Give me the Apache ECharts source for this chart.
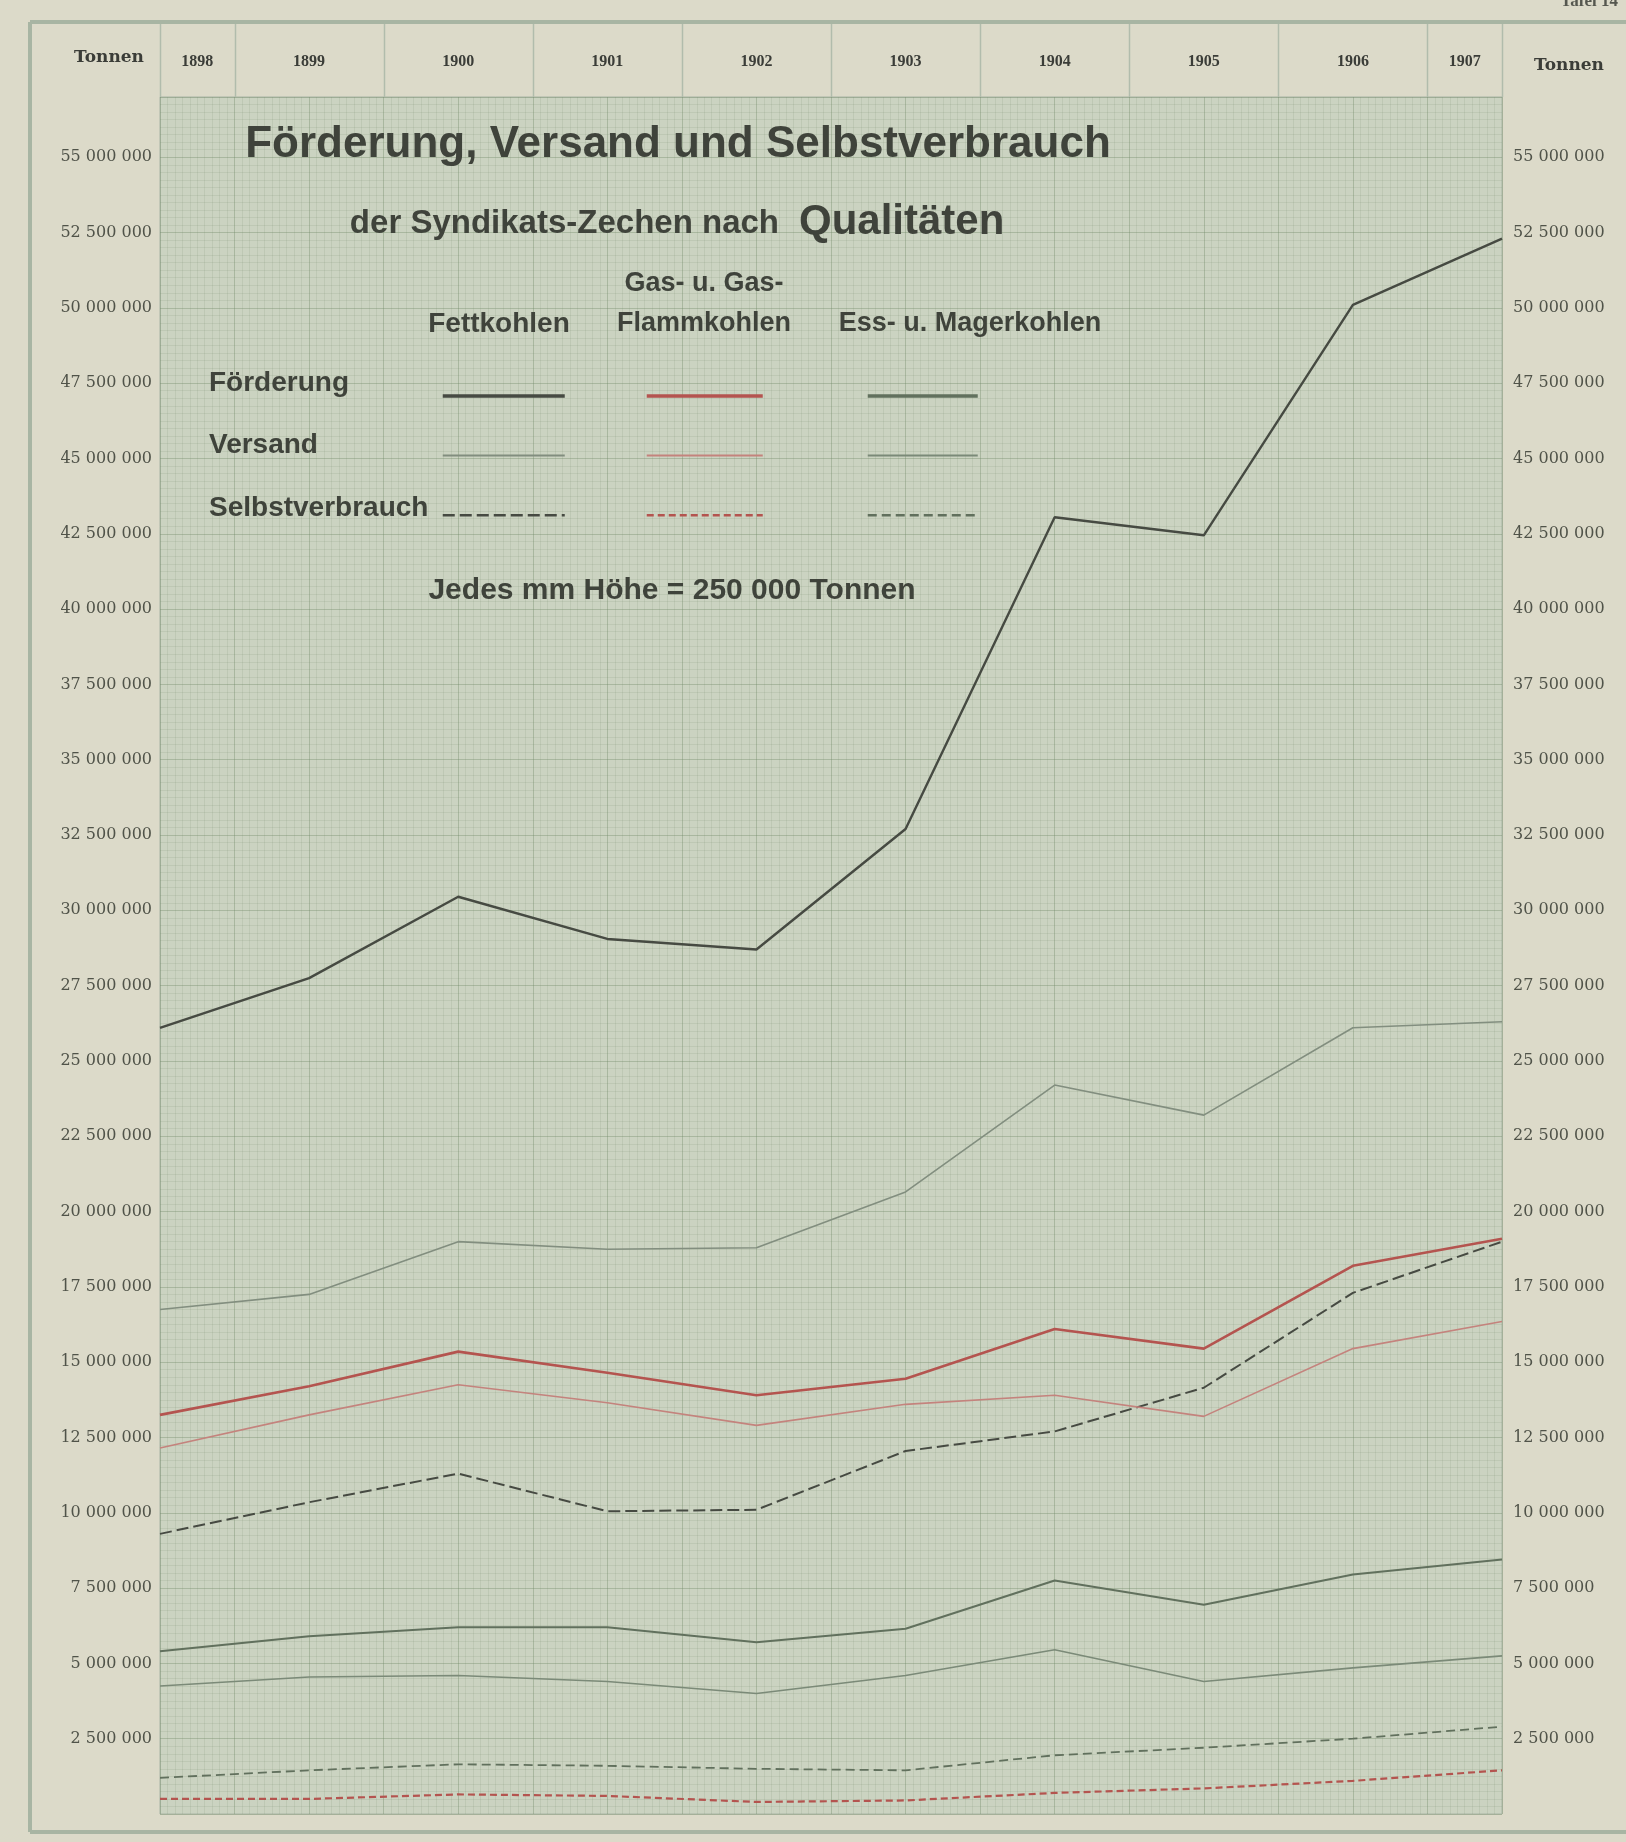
<!DOCTYPE html>
<html>
<head>
<meta charset="utf-8">
<title>Förderung, Versand und Selbstverbrauch</title>
<script src="https://cdn.jsdelivr.net/npm/echarts@6/dist/echarts.min.js"></script>
<style>
  html, body { margin: 0; padding: 0; background: #dcdac9; }
  #chart { width: 1626px; height: 1842px; }
</style>
</head>
<body>
<div id="chart"></div>
<script>
// Jahre (Kategorien)
const years = ['1898', '1899', '1900', '1901', '1902', '1903', '1904', '1905', '1906', '1907'];

// Tonnen
const fettFoerderung = [26100000, 27750000, 30450000, 29050000, 28700000, 32700000, 43050000, 42450000, 50100000, 52300000];
const fettVersand = [16750000, 17250000, 19000000, 18750000, 18800000, 20650000, 24200000, 23200000, 26100000, 26300000];
const fettSelbst = [9300000, 10350000, 11300000, 10050000, 10100000, 12050000, 12700000, 14150000, 17300000, 19000000];

const gasFoerderung = [13250000, 14200000, 15350000, 14650000, 13900000, 14450000, 16100000, 15450000, 18200000, 19100000];
const gasVersand = [12150000, 13250000, 14250000, 13650000, 12900000, 13600000, 13900000, 13200000, 15450000, 16350000];
const gasSelbst = [500000, 500000, 650000, 600000, 400000, 450000, 700000, 850000, 1100000, 1450000];

const essFoerderung = [5400000, 5900000, 6200000, 6200000, 5700000, 6150000, 7750000, 6950000, 7950000, 8450000];
const essVersand = [4250000, 4550000, 4600000, 4400000, 4000000, 4600000, 5450000, 4400000, 4850000, 5250000];
const essSelbst = [1200000, 1450000, 1650000, 1600000, 1500000, 1450000, 1950000, 2200000, 2500000, 2900000];

// Kopfzeile: Zelltrenner und Beschriftungspositionen (Index der Jahre)
const headerSeparators = [0, 0.5, 1.5, 2.5, 3.5, 4.5, 5.5, 6.5, 7.5, 8.5, 9];
const headerLabelPos = [0.25, 1, 2, 3, 4, 5, 6, 7, 8, 8.75];

const ink = '#3f433b';
const sans = '"Liberation Sans", Arial, sans-serif';
const serif = '"DejaVu Serif", "Liberation Serif", serif';
const frameColor = '#a8b5a3';

function tonnen(v) {
  return String(v).replace(/\B(?=(\d{3})+(?!\d))/g, ' ');
}

const chart = echarts.init(document.getElementById('chart'));

function lineSeries(name, data, color, width, dash) {
  return {
    name: name,
    type: 'line',
    data: data,
    symbol: 'none',
    lineStyle: { color: color, width: width, type: dash || 'solid' },
    itemStyle: { color: color },
    silent: true
  };
}

// eine Legendenspalte: Förderung, Versand, Selbstverbrauch untereinander
function legendCol(left, names, w) {
  return {
    data: [
      { name: names[0], lineStyle: { width: 3.5 } },
      { name: names[1], lineStyle: { width: 2 } },
      { name: names[2], lineStyle: { width: 2.5 } }
    ],
    orient: 'vertical',
    left: left,
    top: 389,
    padding: 0,
    itemWidth: w,
    itemHeight: 14,
    itemGap: 47,
    selectedMode: false,
    itemStyle: { opacity: 0 },
    formatter: () => '',
    textStyle: { fontSize: 1 }
  };
}

function label(x, y, text, size, align) {
  return {
    type: 'text', x: x, y: y, silent: true,
    style: { text: text, font: 'bold ' + size + 'px ' + sans, fill: ink, align: align || 'center', verticalAlign: 'middle' }
  };
}

const yLabelStyle = { fontFamily: serif, fontSize: 16, color: '#505349' };
const gridMajor = { color: 'rgba(112,136,106,0.38)', width: 1 };
const gridMinor = { color: 'rgba(112,136,106,0.14)', width: 1 };

const option = {
  animation: false,
  backgroundColor: '#dcdac9',
  grid: {
    left: 160, right: 124, top: 97, bottom: 28,
    show: true, backgroundColor: '#cbd3c1', borderColor: '#a9b5a4', borderWidth: 1
  },
  legend: [
    legendCol(441, ['Fettkohlen Förderung', 'Fettkohlen Versand', 'Fettkohlen Selbstverbrauch'], 122),
    legendCol(645, ['Gaskohlen Förderung', 'Gaskohlen Versand', 'Gaskohlen Selbstverbrauch'], 116),
    legendCol(866, ['Magerkohlen Förderung', 'Magerkohlen Versand', 'Magerkohlen Selbstverbrauch'], 110)
  ],
  xAxis: [
    {
      type: 'category', data: years, boundaryGap: false,
      axisLine: { show: false }, axisTick: { show: false }, axisLabel: { show: false },
      splitLine: { show: false }
    },
    {
      // Kopfzeile mit den Jahreszahlen
      type: 'value', min: 0, max: 9, position: 'top',
      axisLine: { show: false }, axisTick: { show: false },
      axisLabel: {
        customValues: headerLabelPos, margin: 27,
        fontFamily: '"Liberation Serif", serif', fontSize: 16, fontWeight: 'bold', color: '#3b3d38',
        formatter: v => years[Math.round(v)]
      },
      splitLine: { show: false }
    },
    {
      // Millimeterpapier, senkrecht
      type: 'value', min: 0, max: 9, interval: 0.5,
      axisLine: { show: false }, axisTick: { show: false }, axisLabel: { show: false },
      splitLine: { show: true, lineStyle: gridMajor },
      minorSplitLine: { show: true, lineStyle: gridMinor },
      minorTick: { show: false, splitNumber: 10 }
    }
  ],
  yAxis: [
    {
      type: 'value', min: 0, max: 57000000, interval: 2500000, position: 'left',
      axisLine: { show: false }, axisTick: { show: false },
      axisLabel: Object.assign({ margin: 8, showMinLabel: false, showMaxLabel: false, formatter: tonnen }, yLabelStyle),
      splitLine: { show: true, lineStyle: gridMajor },
      minorTick: { show: false, splitNumber: 10 },
      minorSplitLine: { show: true, lineStyle: gridMinor }
    },
    {
      type: 'value', min: 0, max: 57000000, interval: 2500000, position: 'right',
      axisLine: { show: false }, axisTick: { show: false },
      axisLabel: Object.assign({ margin: 11, showMinLabel: false, showMaxLabel: false, formatter: tonnen }, yLabelStyle),
      splitLine: { show: false }
    }
  ],
  series: [
    lineSeries('Fettkohlen Förderung', fettFoerderung, '#464a42', 2.4),
    lineSeries('Fettkohlen Versand', fettVersand, '#828e7f', 1.6),
    lineSeries('Fettkohlen Selbstverbrauch', fettSelbst, '#464a42', 2, [12, 5]),
    lineSeries('Gaskohlen Förderung', gasFoerderung, '#b4544f', 2.6),
    lineSeries('Gaskohlen Versand', gasVersand, '#c4837d', 1.6),
    lineSeries('Gaskohlen Selbstverbrauch', gasSelbst, '#b4544f', 2.2, [7, 4]),
    lineSeries('Magerkohlen Förderung', essFoerderung, '#61705d', 2),
    lineSeries('Magerkohlen Versand', essVersand, '#7b8a78', 1.6),
    lineSeries('Magerkohlen Selbstverbrauch', essSelbst, '#61705d', 1.8, [9, 5])
  ]
};

chart.setOption(option);

// Trennlinien der Kopfzeile an den Achsenpositionen
const headerLines = headerSeparators.map(v => {
  const x = Math.round(chart.convertToPixel({ xAxisIndex: 1 }, v)) + 0.5;
  return { type: 'line', silent: true, shape: { x1: x, y1: 22, x2: x, y2: 97 }, style: { stroke: '#b1bcac', lineWidth: 1.5 } };
});

chart.setOption({
  graphic: headerLines.concat([
    // Rahmen der Tafel
    { type: 'line', shape: { x1: 30, y1: 22, x2: 1626, y2: 22 }, style: { stroke: frameColor, lineWidth: 4 }, silent: true },
    { type: 'line', shape: { x1: 30, y1: 22, x2: 30, y2: 1832 }, style: { stroke: frameColor, lineWidth: 4 }, silent: true },
    { type: 'line', shape: { x1: 30, y1: 1832, x2: 1626, y2: 1832 }, style: { stroke: frameColor, lineWidth: 4 }, silent: true },
    { type: 'text', right: 8, top: -7, style: { text: 'Tafel 14', font: 'bold 17px "Liberation Serif", serif', fill: '#55574f' }, silent: true },
    // Einheit
    { type: 'text', x: 109, y: 58, silent: true, style: { text: 'Tonnen', font: 'bold 17px ' + serif, fill: '#3b3d38', align: 'center', verticalAlign: 'middle' } },
    { type: 'text', x: 1569, y: 66, silent: true, style: { text: 'Tonnen', font: 'bold 17px ' + serif, fill: '#3b3d38', align: 'center', verticalAlign: 'middle' } },
    // Titel
    label(678, 145, 'Förderung, Versand und Selbstverbrauch', 44),
    {
      type: 'text', x: 779, y: 240, silent: true,
      style: { text: 'der Syndikats-Zechen nach', font: 'bold 33px ' + sans, fill: ink, align: 'right', verticalAlign: 'bottom' }
    },
    {
      type: 'text', x: 799, y: 243, silent: true,
      style: { text: 'Qualitäten', font: 'bold 42px ' + sans, fill: ink, align: 'left', verticalAlign: 'bottom' }
    },
    // Spaltenköpfe der Legende
    label(704, 284, 'Gas- u. Gas-', 27),
    label(499, 324, 'Fettkohlen', 28),
    label(704, 324, 'Flammkohlen', 27),
    label(970, 324, 'Ess- u. Magerkohlen', 27),
    // Zeilen der Legende
    label(209, 383, 'Förderung', 28, 'left'),
    label(209, 445, 'Versand', 28, 'left'),
    label(209, 508, 'Selbstverbrauch', 28, 'left'),
    // Maßstab
    label(672, 591, 'Jedes mm Höhe = 250 000 Tonnen', 30)
  ])
});
</script>
</body>
</html>
